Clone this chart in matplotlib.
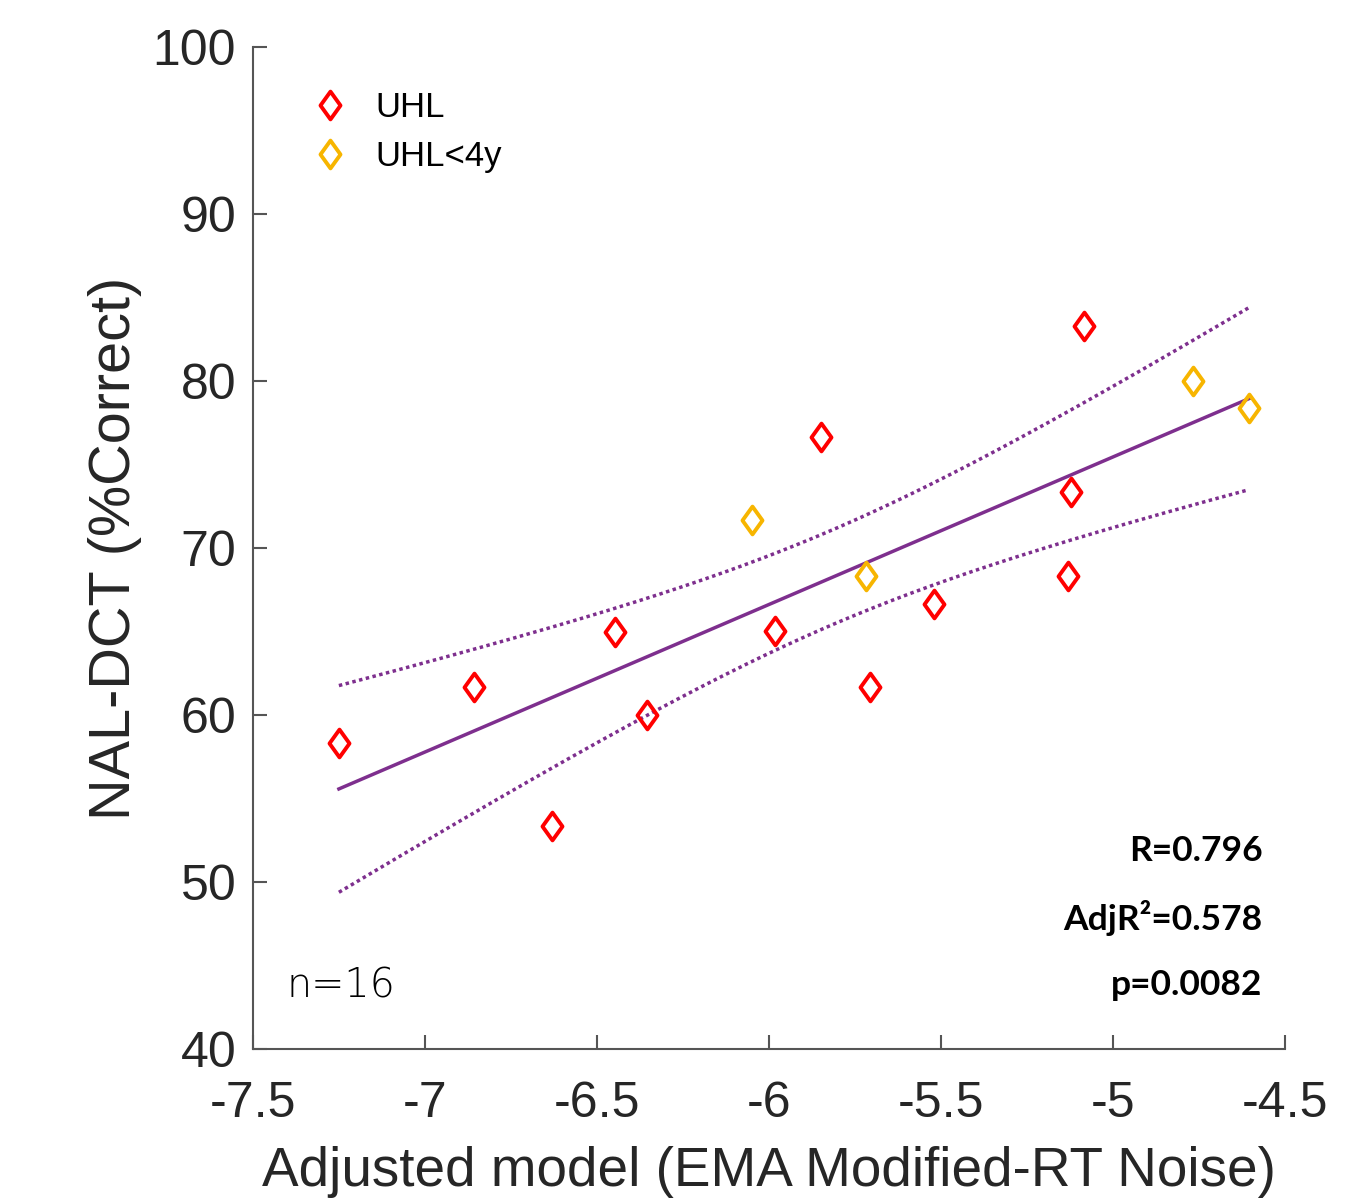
import numpy as np
import matplotlib
matplotlib.use("Agg")
from matplotlib import pyplot as plt
from matplotlib.path import Path

# data
uhl_x = [-7.25, -6.858, -6.631, -6.448, -6.355, -5.983, -5.849, -5.706, -5.52, -5.131, -5.122, -5.084]
uhl_y = [58.3, 61.7, 53.35, 64.97, 60.0, 65.0, 76.65, 61.7, 66.65, 68.32, 73.35, 83.3]
young_x = [-6.049, -5.718, -4.767, -4.605]
young_y = [71.68, 68.32, 80.0, 78.38]

stats_lines = ["R=0.796", "AdjR\u00b2=0.578", "p=0.0082"]
n_label = "n=16"

purple = "#7E2F8E"
txt_col = "#262626"

# matlab style diamond (a bit taller than wide)
diamond = Path([(0, 1), (0.72, 0), (0, -1), (-0.72, 0), (0, 1)],
               [Path.MOVETO, Path.LINETO, Path.LINETO, Path.LINETO, Path.CLOSEPOLY])

# linear fit + 95% confidence band
x_all = np.array(uhl_x + young_x)
y_all = np.array(uhl_y + young_y)
n = len(x_all)
b1, b0 = np.polyfit(x_all, y_all, 1)
resid = y_all - (b0 + b1 * x_all)
s = np.sqrt(np.sum(resid ** 2) / (n - 2))
sxx = np.sum((x_all - x_all.mean()) ** 2)
t_crit = 2.1448  # t(0.975, df=14)
xf = np.linspace(x_all.min(), x_all.max(), 200)
yf = b0 + b1 * xf
half = t_crit * s * np.sqrt(1.0 / n + (xf - x_all.mean()) ** 2 / sxx)

fig = plt.figure(figsize=(13.67, 12.03), dpi=100)
ax = fig.add_axes([0.185, 0.128, 0.755, 0.833])

ax.plot(xf, yf, color=purple, lw=2.5)
ax.plot(xf, yf + half, color=purple, lw=2.5, ls=(0, (1, 1)))
ax.plot(xf, yf - half, color=purple, lw=2.5, ls=(0, (1, 1)))

ax.plot(uhl_x, uhl_y, ls="none", marker=diamond, ms=20, mfc="none", mec="#FF0000", mew=2.8, label="UHL")
ax.plot(young_x, young_y, ls="none", marker=diamond, ms=20, mfc="none", mec="#F7B500", mew=2.8, label="UHL<4y")

ax.set_xlim(-7.5, -4.5)
ax.set_ylim(40, 100)
ax.set_xticks([-7.5, -7, -6.5, -6, -5.5, -5, -4.5])
ax.set_xticklabels(["-7.5", "-7", "-6.5", "-6", "-5.5", "-5", "-4.5"])
ax.set_yticks([40, 50, 60, 70, 80, 90, 100])

for sp in ["top", "right"]:
    ax.spines[sp].set_visible(False)
for sp in ["left", "bottom"]:
    ax.spines[sp].set_color("#555555")
    ax.spines[sp].set_linewidth(1.5)
ax.tick_params(direction="in", length=10, width=1.5, color="#555555", labelsize=36, labelcolor=txt_col)
ax.tick_params(axis="x", pad=23)
ax.tick_params(axis="y", pad=12)
for lab in ax.get_xticklabels() + ax.get_yticklabels():
    lab.set_family("Liberation Sans")

ax.set_xlabel("Adjusted model (EMA Modified-RT Noise)", fontsize=39.5, family="Liberation Sans",
              labelpad=14, color=txt_col)
ax.set_ylabel("NAL-DCT (%Correct)", fontsize=41.5, family="Liberation Sans", labelpad=8, color=txt_col)

ax.legend(loc="upper left", frameon=False, prop={"family": "Liberation Sans", "size": 25},
          bbox_to_anchor=(0.011, 0.987), handletextpad=0.3, labelspacing=0.45)

for i, t in enumerate(stats_lines):
    ax.text(0.978, 0.1976 - i * 0.0668, t, transform=ax.transAxes, ha="right", va="center",
            fontsize=25.5, fontweight="bold", family="Lato", color="black")
ax.text(0.033, 0.063, n_label, transform=ax.transAxes, ha="left", va="center",
        fontsize=28.5, family="DejaVu Sans", fontweight="light", color="black")

fig.savefig("out.png", dpi=100, facecolor="white")
